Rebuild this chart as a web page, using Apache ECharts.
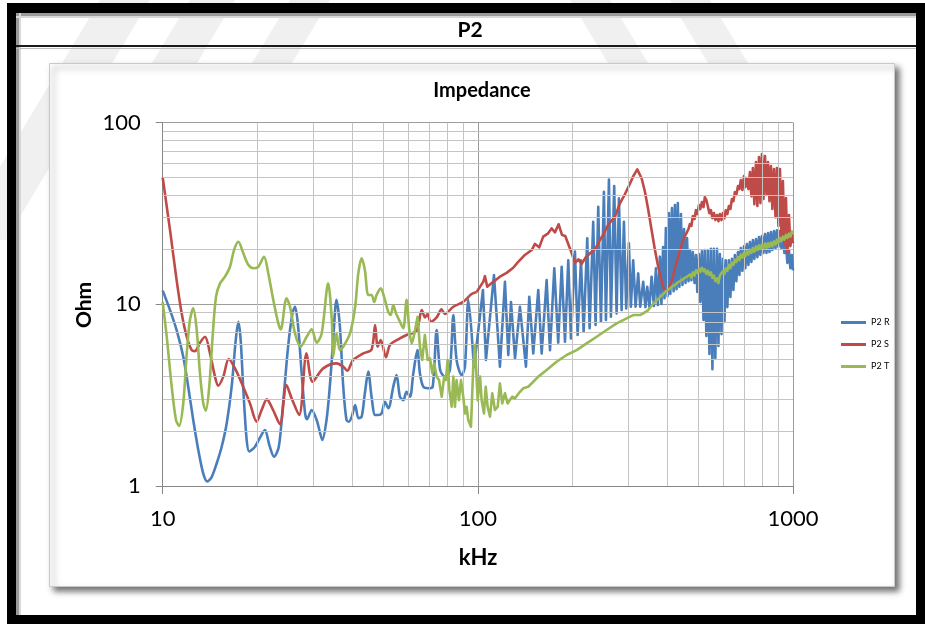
<!DOCTYPE html>
<html>
<head>
<meta charset="utf-8">
<script src="https://cdn.jsdelivr.net/npm/echarts@6/dist/echarts.min.js"></script>
<style>
html,body{margin:0;padding:0;background:#fff;}
#chart{width:925px;height:624px;}
</style>
</head>
<body>
<div id="chart"></div>
<script>
// ---------- tick / grid values ----------
const xTicks = [10, 100, 1000];
const yTicks = [1, 10, 100];
const minorX = [20,30,40,50,60,70,80,90,200,300,400,500,600,700,800,900];
const minorY = [2,3,4,5,6,7,8,9,20,30,40,50,60,70,80,90];
const seriesNames = ['P2 R', 'P2 S', 'P2 T'];

// ---------- P2 R (blue), low/mid frequency part ----------
const rFreq = [10,10.55,11.07,11.62,12.05,12.5,12.97,13.45,13.85,14.3,14.83,15.38,15.96,16.55,17.05,17.38,17.68,18.0,18.47,18.82,19.6,20.3,21.1,21.8,22.56,23.35,24.1,25.0,25.8,26.3,26.9,27.6,28.3,28.7,29.7,30.8,31.6,32.1,33.1,33.9,34.8,35.6,36.5,37.4,38.3,39.0,39.8,40.8,41.8,42.8,43.8,44.9,46.0,47.2,48.3,49.5,50.7,52.0,53.9,55.2,56.6,58.0,59.4,60.9,62.4,64.3,65.5,67.1,69.6,71.9,74.0,75.9,78.6,81.5,83.6,85.6,88.9,91.0,93.3,97.2,
  103.8,106.1,112.5,117.5,121.9,124.9,127.4,131.2,136.0,142.1,145.6,149.9,155.5,159.4,165.3,169.4,174.8,179.9,184.5,189.0,193.6,197.4,203.3,207.3,212.4,216.6,222.4,226.3,232.3,236.4,241.0,245.8,251.2,254.9,260.6,264.4,270.8,275.6,280.3,285.9,290.7,295.6,301.5,305.9,311.1,316.6,322.7,327.5,334.7,340.2,344.7,350.3,355.9,362.0,367.3,372.7,378.2,382.4];
const rOhm = [11.9,9.3,7.22,5.15,3.52,2.31,1.58,1.17,1.06,1.12,1.33,1.64,2.21,3.52,6.36,8.02,6.36,3.52,1.79,1.55,1.64,1.83,2.03,1.68,1.45,1.64,2.85,5.85,8.9,9.7,7.53,4.17,2.51,2.33,2.62,2.31,1.95,1.79,2.31,3.52,6.63,10.6,7.53,3.52,2.31,2.26,2.41,2.79,2.36,2.41,3.24,4.26,3.1,2.46,2.46,2.51,2.91,2.68,3.52,4.08,3.1,2.97,3.3,3.1,4.17,5.6,4.17,3.52,3.45,3.52,7.22,4.35,4.0,4.35,8.73,4.94,4.08,4.54,10.6,4.46,
  12.0,4.94,14.5,4.54,13.3,5.26,10.3,5.04,9.7,4.54,11.0,5.37,12.0,5.37,13.6,5.6,15.8,6.16,16.1,6.23,17.5,6.5,19.5,6.78,17.5,7.07,23.1,7.38,28.5,7.69,34.4,8.02,41.7,8.2,48.7,8.55,44.8,8.92,38.3,9.3,28.5,9.5,21.7,9.7,17.5,9.7,14.8,9.7,13.3,9.66,12.5,9.66,14.2,9.79,15.8,9.91,18.3,10.04];

// ---------- P2 S (red), low/mid frequency part ----------
const sFreq = [10,10.55,11.07,11.49,11.92,12.36,12.66,13.13,13.62,14.13,14.65,15.0,15.57,16.2,16.96,18.0,18.92,19.87,20.6,21.4,22.4,23.55,24.7,25.65,27.1,28.6,29.9,32.3,35.6,37.4,38.5,40.2,43.3,46.0,47.2,48.1,49.2,51.1,52.6,55.9,59.4,63.9,66.4,68.0,69.3,70.8,74.0,76.7,78.6,83.6,89.9,95.5,99.1,104.0,105.3,107.1,111.9,117.5,123.4,129.5,133.4,141.0,148.2,151.8,156.6,161.2,167.2,171.4,175.7,180.4,184.9,189.4,194.1,198.6,203.4,208.4,213.4,219.8,226.9,235.3,243.9,249.9,256.3,263.8,272.3,282.4,293.0,304.0,311.4,320.5,331,339,347.5,356,364.7,373.5,380];
const sOhm = [50,25.6,13.6,8.9,6.63,5.6,5.53,6.15,6.63,5.37,4.0,3.57,4.0,5.0,4.44,3.52,2.85,2.26,2.62,3.0,2.62,2.19,3.6,3.04,2.46,5.37,3.75,4.44,4.73,4.54,4.31,4.94,5.37,5.65,7.69,5.85,6.36,5.11,5.97,6.42,6.78,7.16,9.3,8.48,8.85,8.02,8.48,9.38,8.85,9.7,10.33,11.4,11.7,13.3,14.3,12.5,13.3,14.2,14.9,15.9,16.9,18.7,19.9,21.5,20.6,23.6,24.6,26.2,24.9,27.6,24.1,23.8,21.2,19.1,16.9,17.7,16.7,18.1,19.1,20.1,22.6,24.1,26.5,28.5,30.4,36.0,40.5,46.3,50.8,55.3,49.3,41.7,33.0,25.6,19.9,16.1,14.2];

// ---------- P2 T (green), low/mid frequency part ----------
const tFreq = [10,10.3,10.68,11.02,11.27,11.62,11.92,12.2,12.5,12.82,13.13,13.45,13.7,14.05,14.4,14.76,15.2,15.76,16.35,16.84,17.38,18.02,18.69,19.38,20.1,20.96,21.63,22.43,23.27,23.7,24.7,25.35,26.29,27.4,28.63,29.7,30.8,31.95,33.5,34.4,34.77,35.6,36.5,37.4,39.3,40.8,41.75,42.8,43.8,44.9,46.0,46.9,47.7,49.2,50.4,51.96,52.9,53.9,55.0,56.6,58.0,59.4,60.6,61.7,63.2,64.4,65.5,66.6,67.9,69.3,70.5,71.7,72.7,74.0,75.3,76.8,78.2,79.2,80.2,81.2,82.6,83.6,84.6,85.6,87.1,88.4,89.9,91.0,92.1,93.2,95.1,96.7,97.9,99.9,101.6,102.8,104.6,105.9,107.4,109.3,111.1,113.3,115.6,117.5,119.5,121.9,124.3,126.4,128.6,131.2,136.0,139.3,144.5,149.9,155.5,165.3,177.8,191.3,205.8,221.4,238.2,256.2,275.6,296.6,311.1,326.8,334.7,347.2,360.2,373.6];
const tOhm = [10.3,6.63,3.52,2.31,2.14,2.85,5.37,8.2,9.51,7.22,4.17,2.85,2.6,3.52,6.63,11.0,13.05,14.2,16.1,19.9,22.1,19.1,16.5,15.8,16.1,18.3,14.8,10.6,7.86,7.28,10.8,9.7,6.92,5.85,6.63,7.29,6.15,6.92,13.05,8.2,5.15,6.92,5.6,5.84,6.92,9.7,14.8,17.9,15.45,11.25,11.25,10.3,11.25,12.25,11.0,9.1,8.73,9.91,8.92,8.02,7.38,10.6,7.22,6.1,7.22,8.55,5.84,4.94,6.78,4.94,5.04,4.17,4.73,4.0,3.83,3.1,4.0,3.83,4.94,3.38,2.73,4.0,2.73,3.83,2.97,3.83,3.1,2.51,2.73,2.31,2.12,4.54,5.97,2.97,4.0,2.97,2.51,3.52,2.73,2.41,3.24,2.62,2.73,3.67,2.85,3.24,2.85,2.97,3.1,3.04,3.3,3.45,3.52,3.75,4.0,4.35,4.83,5.26,5.6,6.1,6.63,7.22,7.86,8.38,8.73,8.73,8.92,9.3,10.1,10.7];

// ---------- high-frequency part (dense oscillation), shared frequency list ----------
const hfFreq = [387,391,395,400,404,408,413,418,422,427,431,436,441,446,451,456,461,466,471,476,481,487,492,497,503,508,514,520,525,531,537,543,549,555,561,567,574,580,586,593,599,606,612,619,626,633,640,647,654,661,669,676,683,691,699,706,714,722,730,738,746,754,763,771,780,788,797,806,815,824,833,842,851,860,870,880,889,899,909,919,929,939,950,960,971,981,992,1000];
const hfR = [20.7,10.8,26.3,11.1,31.8,11.4,33.9,11.8,35.2,12.1,36.1,12.5,31.4,12.8,26.0,13.1,23.2,13.4,19.9,13.6,19.4,13.1,18.7,11.7,18.9,10.3,19.6,8.2,19.9,6.69,19.9,5.33,20.2,4.40,20.2,5.06,20.2,5.90,18.9,6.86,17.8,7.99,17.5,9.66,17.5,11.0,17.8,12.0,18.7,13.4,19.4,14.5,20.4,15.3,20.9,15.8,21.5,16.5,22.0,17.1,22.6,17.8,22.9,18.2,23.5,18.7,23.8,19.2,24.4,19.2,24.7,19.4,25.0,19.9,25.3,20.4,25.6,20.7,25.3,20.4,24.4,19.2,21.2,16.9,19.9,15.8,18.7,15.4];
const hfS = [12.5,12.1,11.8,11.8,12.3,12.8,13.6,14.7,15.8,16.9,18.0,19.4,20.7,22.0,23.2,24.1,25.0,26.0,27.7,27.0,30.6,29.5,33.0,31.4,35.2,33.5,36.6,34.3,38.9,37.5,36.6,31.8,33.0,29.8,31.8,29.1,31.0,28.7,31.4,29.1,31.8,29.8,33.0,31.4,34.8,33.5,38.0,37.0,41.5,40.0,44.8,43.1,48.3,42.6,50.8,44.2,49.6,43.1,53.5,39.4,56.3,35.6,60.7,34.8,64.7,36.1,67.2,38.0,65.5,40.0,60.7,37.0,57.7,33.5,55.5,30.2,56.3,27.0,55.5,23.8,47.7,21.2,38.5,19.2,31.0,20.9,24.1,21.7];
const hfT = [11.4,11.3,11.8,11.6,12.1,12.0,12.5,12.3,12.8,12.7,13.2,13.0,13.5,13.4,13.9,13.7,14.2,14.0,14.6,14.0,15.0,14.4,15.4,14.9,15.7,15.1,15.9,15.2,15.6,14.7,15.3,14.5,15.0,14.0,14.4,13.4,13.9,13.1,14.4,14.1,15.2,14.7,15.8,15.3,16.5,15.8,17.0,16.5,17.6,17.1,18.2,17.5,18.8,18.1,19.3,18.4,19.6,18.8,20.0,19.2,20.4,19.5,20.8,19.9,21.1,20.2,21.3,20.4,21.6,20.5,21.7,20.7,21.9,20.9,22.2,21.3,22.7,21.8,23.2,22.3,23.6,22.7,24.1,23.2,24.5,23.6,25.2,24.8];

const colors = ['#4A7EBB', '#BE4B48', '#98B954'];
const FONT = 'Lato, "Open Sans", sans-serif';

function pairs(f, v) { return f.map((x, i) => [x, v[i]]); }
function lowPart(f, v, cut) { return pairs(f, v).filter(p => p[0] <= cut); }
function highPart(f, v, cut, hv) { return pairs(f, v).filter(p => p[0] >= cut).concat(pairs(hfFreq, hv)); }

function mkSeries(name, color, data, smooth, z) {
  return {
    name: name, type: 'line', data: data, smooth: smooth, symbol: 'none', showSymbol: false,
    z: z, lineStyle: { color: color, width: 2.6, join: 'round' }, itemStyle: { color: color },
    silent: true, animation: false
  };
}

const series = [
  {
    type: 'line', data: [[10, 1]], symbol: 'none', showSymbol: false, silent: true, z: 1,
    lineStyle: { opacity: 0 }, animation: false,
    markLine: {
      silent: true, symbol: ['none', 'none'], label: { show: false }, animation: false,
      lineStyle: { color: '#c4c4c4', width: 1, type: 'solid' },
      emphasis: { disabled: true },
      data: minorX.map(v => ({ xAxis: v })).concat(minorY.map(v => ({ yAxis: v })))
    }
  },
  mkSeries('P2 R', colors[0], lowPart(rFreq, rOhm, 97.2), 0.3, 3),
  mkSeries('P2 R', colors[0], highPart(rFreq, rOhm, 97.2, hfR), false, 3),
  mkSeries('P2 S', colors[1], lowPart(sFreq, sOhm, 99.1), 0.3, 4),
  mkSeries('P2 S', colors[1], highPart(sFreq, sOhm, 99.1, hfS), false, 4),
  mkSeries('P2 T', colors[2], lowPart(tFreq, tOhm, 63.2), 0.3, 5),
  mkSeries('P2 T', colors[2], highPart(tFreq, tOhm, 63.2, hfT), false, 5)
];

const bg = -100;
const wm = '#f0f0f0';
const graphic = [
  // faint watermark stripes (top-left area)
  { type: 'polygon', z: bg - 5, silent: true, shape: { points: [[100,0],[150,0],[6,240],[-44,240]] }, style: { fill: wm } },
  { type: 'polygon', z: bg - 5, silent: true, shape: { points: [[190,0],[235,0],[197,63],[152,63]] }, style: { fill: wm } },
  { type: 'polygon', z: bg - 5, silent: true, shape: { points: [[290,0],[330,0],[292,63],[252,63]] }, style: { fill: wm } },
  { type: 'polygon', z: bg - 5, silent: true, shape: { points: [[570,0],[610,0],[648,63],[608,63]] }, style: { fill: wm } },
  { type: 'polygon', z: bg - 5, silent: true, shape: { points: [[670,0],[710,0],[748,63],[708,63]] }, style: { fill: wm } },
  // outer black frame
  { type: 'rect', z: bg, silent: true, shape: { x: 7, y: 3, width: 918, height: 10 }, style: { fill: '#000' } },
  { type: 'rect', z: bg, silent: true, shape: { x: 7, y: 3, width: 9, height: 621 }, style: { fill: '#000' } },
  { type: 'rect', z: bg, silent: true, shape: { x: 916, y: 3, width: 9, height: 621 }, style: { fill: '#000' } },
  { type: 'rect', z: bg, silent: true, shape: { x: 7, y: 615, width: 918, height: 9 }, style: { fill: '#000' } },
  // inner frame shading
  { type: 'line', z: bg, silent: true, shape: { x1: 16, y1: 14.5, x2: 916, y2: 14.5 }, style: { stroke: '#9a9a9a', lineWidth: 3 } },
  { type: 'line', z: bg, silent: true, shape: { x1: 17.5, y1: 13, x2: 17.5, y2: 615 }, style: { stroke: '#9a9a9a', lineWidth: 3 } },
  { type: 'line', z: bg, silent: true, shape: { x1: 16, y1: 17, x2: 916, y2: 17 }, style: { stroke: '#d8d8d8', lineWidth: 2 } },
  { type: 'line', z: bg, silent: true, shape: { x1: 20, y1: 13, x2: 20, y2: 615 }, style: { stroke: '#d8d8d8', lineWidth: 2 } },
  // header separator
  { type: 'line', z: bg, silent: true, shape: { x1: 16, y1: 46, x2: 916, y2: 46 }, style: { stroke: '#1a1a1a', lineWidth: 2 } },
  { type: 'line', z: bg, silent: true, shape: { x1: 16, y1: 48.5, x2: 916, y2: 48.5 }, style: { stroke: '#bdbdbd', lineWidth: 1 } },
  // chart panel with shadow
  { type: 'rect', z: bg + 10, silent: true, shape: { x: 49.5, y: 63.5, width: 845, height: 523 },
    style: { fill: '#ffffff', stroke: '#c9c9c9', lineWidth: 1, shadowBlur: 6, shadowOffsetX: 4, shadowOffsetY: 4, shadowColor: 'rgba(0,0,0,0.55)' } },
  // texts
  { type: 'text', z: 100, silent: true, x: 470, y: 30, style: { text: 'P2', align: 'center', verticalAlign: 'middle', font: 'bold 21px ' + FONT, fill: '#000' } },
  { type: 'text', z: 100, silent: true, x: 482, y: 91, style: { text: 'Impedance', align: 'center', verticalAlign: 'middle', font: 'bold 20px ' + FONT, fill: '#000' } },
  { type: 'text', z: 100, silent: true, x: 478, y: 558, style: { text: 'kHz', align: 'center', verticalAlign: 'middle', font: 'bold 22px ' + FONT, fill: '#000' } },
  { type: 'text', z: 100, silent: true, x: 84, y: 305, rotation: Math.PI / 2, style: { text: 'Ohm', align: 'center', verticalAlign: 'middle', font: 'bold 21px ' + FONT, fill: '#000' } }
];

const chart = echarts.init(document.getElementById('chart'), null, { renderer: 'canvas' });
chart.setOption({
  animation: false,
  backgroundColor: '#ffffff',
  graphic: graphic,
  grid: { left: 162.7, top: 122.7, width: 630.3, height: 363.3 },
  legend: {
    data: seriesNames.map(n => ({ name: n, icon: 'rect' })),
    orient: 'vertical', left: 836, top: 312,
    itemWidth: 25, itemHeight: 3, itemGap: 11,
    textStyle: { fontSize: 9, color: '#000', fontFamily: FONT, lineHeight: 11 }
  },
  xAxis: {
    type: 'log', logBase: 10, min: xTicks[0], max: xTicks[xTicks.length - 1],
    axisLine: { show: true, lineStyle: { color: '#868686', width: 1 } },
    axisTick: { show: true, length: 8, lineStyle: { color: '#868686' } },
    axisLabel: { fontSize: 22, fontFamily: FONT, color: '#000', margin: 22, formatter: v => String(Math.round(v)) },
    splitLine: { show: true, lineStyle: { color: '#9c9c9c', width: 1 } },
    minorTick: { show: false }, minorSplitLine: { show: false }
  },
  yAxis: {
    type: 'log', logBase: 10, min: yTicks[0], max: yTicks[yTicks.length - 1],
    axisLine: { show: true, lineStyle: { color: '#868686', width: 1 } },
    axisTick: { show: true, length: 7, lineStyle: { color: '#868686' } },
    axisLabel: { fontSize: 22, fontFamily: FONT, color: '#000', margin: 22, formatter: v => String(Math.round(v)) },
    splitLine: { show: true, lineStyle: { color: '#9c9c9c', width: 1 } },
    minorTick: { show: false }, minorSplitLine: { show: false }
  },
  series: series
});
</script>
</body>
</html>
